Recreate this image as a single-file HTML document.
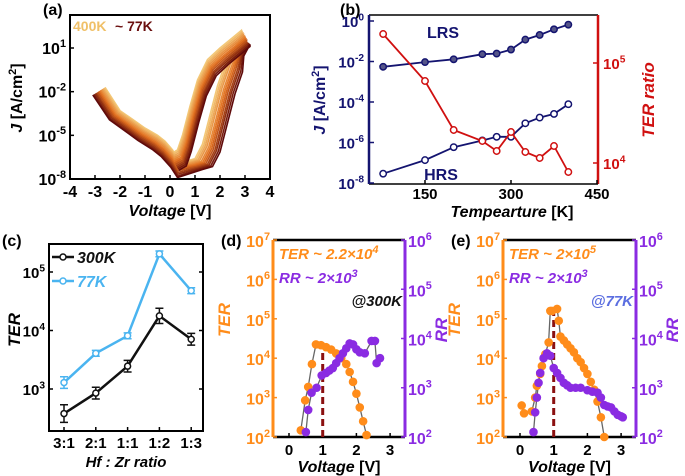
<!DOCTYPE html>
<html><head><meta charset="utf-8"><style>
body{margin:0;background:#fff}
svg{display:block;font-family:"Liberation Sans",Arial,sans-serif;font-weight:bold}
</style></head><body>
<svg id="fig" width="685" height="476" viewBox="0 0 685 476" xmlns="http://www.w3.org/2000/svg"></svg>
<script>
// ---------- Panel (a) data ----------
const aTemps=[400,375,350,325,300,275,250,225,200,150,100,77];
const aHrsShift=[0,0.06,0.12,0.18,0.25,0.31,0.37,0.43,0.5,0.56,0.63,0.7];
const aLrsShift=[0,-0.1,-0.2,-0.3,-0.4,-0.5,-0.6,-0.7,-0.8,-0.9,-1.0,-1.1];
const aNegShift=[0,-0.12,-0.24,-0.36,-0.48,-0.6,-0.72,-0.84,-0.96,-1.08,-1.2,-1.3];
const aNegV=[-2.6,-2.0,-1.5,-1.0,-0.5,-0.2,0.1,0.3];
const aNegJ=[-1.7,-3.3,-3.9,-4.5,-5.0,-5.4,-6.0,-6.6];
const aHrsV=[0.6,1.0,1.3,1.6,1.9,2.2,2.6,2.85];
const aHrsJ=[-6.8,-6.6,-5.6,-3.6,-1.6,-0.1,1.0,1.8];
const aLrsV=[2.85,2.5,2.0,1.5,1.1,0.8,0.5,0.3,0.0];
const aLrsJ=[2.2,1.7,1.0,0.2,-1.2,-3.0,-5.0,-6.0,-6.3];
// ---------- Panel (b) data ----------
const bTemp=[77,150,200,250,275,300,325,350,375,400];
const bLRS=[-2.26,-2.03,-1.89,-1.64,-1.61,-1.41,-0.92,-0.69,-0.41,-0.18];
const bHRS=[-7.54,-6.87,-6.23,-5.90,-5.72,-5.72,-5.05,-4.77,-4.59,-4.11];
const bTER=[5.29,4.82,4.33,4.22,4.12,4.31,4.11,4.05,4.17,3.91];
// ---------- Panel (c) data ----------
const cCats=["3:1","2:1","1:1","1:2","1:3"];
const c300=[2.58,2.93,3.39,4.25,3.85];
const c77=[3.11,3.61,3.91,5.31,4.68];
const c300Err=[0.15,0.1,0.1,0.13,0.1];
const c77Err=[0.1,0.05,0.05,0.05,0.05];
// ---------- Panel (d) data ----------
const dTerV=[0.35,0.48,0.57,0.68,0.8,0.95,1.1,1.25,1.4,1.55,1.7,1.8,1.9,2.0,2.1,2.2,2.3];
const dTer=[2.17,2.93,3.27,3.85,4.35,4.33,4.28,4.22,4.12,4.0,3.85,3.65,3.4,3.1,2.75,2.4,2.05];
const dRrV=[0.5,0.57,0.67,0.82,0.97,1.1,1.2,1.3,1.4,1.5,1.6,1.7,1.8,1.9,2.0,2.1,2.25,2.45,2.55,2.6,2.7];
const dRr=[2.1,2.55,2.9,3.0,3.25,3.3,3.35,3.4,3.5,3.6,3.7,3.8,3.9,3.88,3.78,3.72,3.7,3.95,3.95,3.5,3.6];
// ---------- Panel (e) data ----------
const eTerV=[0.05,0.12,0.35,0.45,0.5,0.6,0.65,0.75,0.85,0.9,0.95,1.1,1.15,1.2,1.3,1.4,1.5,1.6,1.7,1.8,1.9,2.0,2.1,2.2,2.3,2.4,2.5];
const eTer=[2.8,2.6,2.65,3.0,3.3,3.6,3.8,4.1,4.4,5.2,5.2,5.25,4.95,4.55,4.45,4.35,4.25,4.15,4.0,3.9,3.75,3.6,3.4,3.2,2.9,2.5,2.0];
const eRrV=[0.4,0.45,0.5,0.55,0.6,0.7,0.8,0.9,1.0,1.1,1.2,1.3,1.4,1.5,1.65,1.8,2.0,2.15,2.3,2.4,2.5,2.6,2.7,2.8,2.9,3.0,3.05];
const eRr=[2.1,2.5,2.8,3.1,3.3,3.6,3.7,3.65,3.4,3.3,3.2,3.1,3.05,3.0,3.0,3.0,2.95,2.92,2.9,2.8,2.65,2.62,2.6,2.52,2.45,2.42,2.4];

const NS="http://www.w3.org/2000/svg";
const svg=document.getElementById('fig');
function mk(tag,at,parent){const e=document.createElementNS(NS,tag);for(const k in at)e.setAttribute(k,at[k]);(parent||svg).appendChild(e);return e;}
function txt(x,y,s,size,fill,anchor,extra){const e=mk('text',Object.assign({x:x,y:y,'font-size':size,fill:fill||'#000','text-anchor':anchor||'start'},extra||{}));e.textContent=s;return e;}
function pow10(x,y,exp,size,fill,anchor){const e=mk('text',{x:x,y:y,'font-size':size,fill:fill,'text-anchor':anchor||'end'});const a=mk('tspan',{},e);a.textContent='10';const b=mk('tspan',{dy:-size*0.45,'font-size':size*0.68},e);b.textContent=exp;return e;}
function lin(d0,d1,p0,p1){return v=>p0+(v-d0)*(p1-p0)/(d1-d0);}
function poly(pts,at,parent){return mk('polyline',Object.assign({points:pts.map(p=>p[0].toFixed(1)+','+p[1].toFixed(1)).join(' '),fill:'none'},at),parent);}

// ================= Panel (a) =================
(function(){
const X=lin(-4,4,70,270),Y=lin(-8,1,179,48);
const g=mk('g',{});


const c0=[243,200,120],c1=[225,110,30],c2=[95,10,10];
function col(i){const t=i/(aTemps.length-1);let a,b,u;if(t<0.5){a=c0;b=c1;u=t*2}else{a=c1;b=c2;u=(t-0.5)*2}return 'rgb('+a.map((v,k)=>Math.round(v+(b[k]-v)*u)).join(',')+')';}
const clip=mk('clipPath',{id:'clipA'});mk('rect',{x:70,y:15,width:200,height:164},clip);
aTemps.forEach((T,i)=>{
 const pts=[];
 const n=aNegV.length;
 aNegV.forEach((v,k)=>{const w=1-k/(n-1);pts.push([X(v-aHrsShift[i]*0.7*w),Y(aNegJ[k]+aNegShift[i]*(0.4+0.6*(1-w)))]);});
 aHrsV.forEach((v,k)=>pts.push([X(v+aHrsShift[i]*(k>=6?0.5:1)),Y(aHrsJ[k]+aLrsShift[i]*0.5)]));
 aLrsV.forEach((v,k)=>pts.push([X(v+aHrsShift[i]*0.5),Y(aLrsJ[k]+aLrsShift[i])]));
 const p=poly(pts,{stroke:col(i),'stroke-width':1.6,'clip-path':'url(#clipA)'},g);
 
 
});
mk('rect',{x:70,y:15,width:200,height:164,fill:'none',stroke:'#000','stroke-width':2},g);
for(let v=-4;v<=4;v++){mk('line',{x1:X(v),x2:X(v),y1:179,y2:175,stroke:'#000','stroke-width':1.5},g);txt(X(v),197,String(v),16,'#000','middle');}
[-8,-5,-2,1].forEach(e=>{pow10(66,Y(e)+6,String(e),16,'#000');mk('line',{x1:70,x2:74,y1:Y(e),y2:Y(e),stroke:'#000','stroke-width':1.5},g);});
const t=mk('text',{x:170,y:216,'font-size':16,'text-anchor':'middle'});const t1=mk('tspan',{'font-style':'italic'},t);t1.textContent='Voltage';const t2=mk('tspan',{},t);t2.textContent=' [V]';
const yt=mk('text',{x:0,y:0,'font-size':16,'text-anchor':'middle',transform:'translate(22,98) rotate(-90)'});const y1=mk('tspan',{'font-style':'italic'},yt);y1.textContent='J';const y2=mk('tspan',{},yt);y2.textContent=' [A/cm';const y3=mk('tspan',{dy:-6,'font-size':11},yt);y3.textContent='2';const y4=mk('tspan',{dy:6},yt);y4.textContent=']';
txt(43,15,'(a)',16,'#000','start');
txt(73,31,'400K',14,'#f0c068');txt(115,31,'~ 77K',14,'#6a0e0e');
})();

// ================= Panel (b) =================
(function(){
const X=lin(150,300,425,511),YL=lin(0,-8,21,183),YR=lin(5,4,63,163);
const NAVY='#141470',RED='#d01010';
txt(340,15,'(b)',16,'#000');
mk('line',{x1:369,x2:598,y1:15,y2:15,stroke:'#000','stroke-width':1.5});
mk('line',{x1:369,x2:598,y1:184,y2:184,stroke:'#000','stroke-width':1.5});
mk('line',{x1:369,x2:369,y1:15,y2:184,stroke:NAVY,'stroke-width':2.5});
mk('line',{x1:598,x2:598,y1:15,y2:184,stroke:RED,'stroke-width':2.5});
[0,-2,-4,-6,-8].forEach(e=>{pow10(364,YL(e)+6,String(e),15,NAVY);mk('line',{x1:369,x2:374,y1:YL(e),y2:YL(e),stroke:NAVY,'stroke-width':1.5});});
[5,4].forEach(e=>{pow10(603,YR(e)+6,String(e),15,RED,'start');mk('line',{x1:598,x2:593,y1:YR(e),y2:YR(e),stroke:RED,'stroke-width':1.5});});
[150,300,450].forEach(v=>{txt(X(v),199,String(v),15,'#000','middle');mk('line',{x1:X(v),x2:X(v),y1:184,y2:180,stroke:'#000','stroke-width':1.5});});
const t=mk('text',{x:512,y:217,'font-size':16,'text-anchor':'middle'});const a=mk('tspan',{'font-style':'italic'},t);a.textContent='Tempearture';const b=mk('tspan',{},t);b.textContent=' [K]';
const yt=mk('text',{x:0,y:0,'font-size':16,'text-anchor':'middle',fill:NAVY,transform:'translate(325,100) rotate(-90)'});const y1=mk('tspan',{'font-style':'italic'},yt);y1.textContent='J';const y2=mk('tspan',{},yt);y2.textContent=' [A/cm';const y3=mk('tspan',{dy:-6,'font-size':11},yt);y3.textContent='2';const y4=mk('tspan',{dy:6},yt);y4.textContent=']';
txt(0,0,'TER ratio',17,RED,'middle',{'font-style':'italic',transform:'translate(654,100) rotate(-90)'});
const series=[[bLRS,YL,NAVY,'lrs',true],[bHRS,YL,NAVY,'hrs',false],[bTER,YR,RED,'ter-ratio',false]];
series.forEach(s=>{
 const pts=bTemp.map((T,i)=>[X(T),s[1](s[0][i])]);
 const p=poly(pts,{stroke:s[2],'stroke-width':1.8});
 
 pts.forEach(q=>{const c=mk('circle',{cx:q[0],cy:q[1],r:3.2,fill:s[4]?'#555588':'#fff',stroke:s[2],'stroke-width':1.5});});
});
txt(443,38,'LRS',16,NAVY,'middle');txt(441,180,'HRS',16,NAVY,'middle');
})();

// ================= Panel (c) =================
(function(){
const X=i=>64+i*31.8,Y=lin(5,3,272,389);
txt(2,246,'(c)',16,'#000');
mk('rect',{x:49,y:244,width:154,height:187,fill:'none',stroke:'#000','stroke-width':2});
[5,4,3].forEach(e=>{pow10(45,Y(e)+6,String(e),15,'#000');mk('line',{x1:49,x2:53,y1:Y(e),y2:Y(e),stroke:'#000','stroke-width':1.5});mk('line',{x1:203,x2:199,y1:Y(e),y2:Y(e),stroke:'#000','stroke-width':1.5});});
cCats.forEach((c,i)=>{txt(X(i),448,c,15,'#000','middle');mk('line',{x1:X(i),x2:X(i),y1:431,y2:427,stroke:'#000','stroke-width':1.5});});
txt(126,467,'Hf : Zr ratio',15,'#000','middle',{'font-style':'italic'});
txt(0,0,'TER',17,'#000','middle',{'font-style':'italic',transform:'translate(20,330) rotate(-90)'});
[[c77,c77Err,'#4ab4f0','77k'],[c300,c300Err,'#111','300k']].forEach(s=>{
 const pts=s[0].map((v,i)=>[X(i),Y(v)]);
 const p=poly(pts,{stroke:s[2],'stroke-width':2.5});
 pts.forEach((q,i)=>{const y1=Y(s[0][i]+s[1][i]),y2=Y(s[0][i]-s[1][i]);
  mk('path',{d:`M${q[0]},${y1}V${y2}M${q[0]-4},${y1}H${q[0]+4}M${q[0]-4},${y2}H${q[0]+4}`,stroke:s[2],'stroke-width':1.5,fill:'none'});
  const c=mk('circle',{cx:q[0],cy:q[1],r:3,fill:'#fff',stroke:s[2],'stroke-width':1.5});});
});
mk('line',{x1:52,x2:74,y1:257,y2:257,stroke:'#111','stroke-width':2.5});mk('circle',{cx:63,cy:257,r:3,fill:'#fff',stroke:'#111','stroke-width':1.5});
txt(77,263,'300K',16,'#111','start',{'font-style':'italic'});
mk('line',{x1:52,x2:74,y1:281,y2:281,stroke:'#4ab4f0','stroke-width':2.5});mk('circle',{cx:63,cy:281,r:3,fill:'#fff',stroke:'#4ab4f0','stroke-width':1.5});
txt(77,287,'77K',16,'#4ab4f0','start',{'font-style':'italic'});
})();

// ================= Panels (d),(e) =================
const OR='#ff8c1a',PU='#8a2be2';
function vpanel(id,L,R,x0,terV,ter,rrV,rr,lbl,note,noteCol,terTxt,terExp){
 const X=lin(0,1,x0,x0+33.7),YT=lin(2,7,437,240),YR=lin(2,6,437,240);
 txt(L-52,246,lbl,16,'#000');
 mk('line',{x1:L,x2:R,y1:240,y2:240,stroke:'#000','stroke-width':2.5});
 mk('line',{x1:L,x2:R,y1:437,y2:437,stroke:'#000','stroke-width':2.5});
 mk('line',{x1:L,x2:L,y1:240,y2:437,stroke:OR,'stroke-width':3});
 mk('line',{x1:R,x2:R,y1:240,y2:437,stroke:PU,'stroke-width':3});
 [2,3,4,5,6,7].forEach(e=>{pow10(L-3,YT(e)+7,String(e),16,OR);mk('line',{x1:L,x2:L+4,y1:YT(e),y2:YT(e),stroke:OR,'stroke-width':1.5});});
 [2,3,4,5,6].forEach(e=>{pow10(R+3,YR(e)+7,String(e),16,PU,'start');mk('line',{x1:R,x2:R-4,y1:YR(e),y2:YR(e),stroke:PU,'stroke-width':1.5});});
 [0,1,2,3].forEach(v=>{txt(X(v),455,String(v),15,'#000','middle');mk('line',{x1:X(v),x2:X(v),y1:437,y2:433,stroke:'#000','stroke-width':1.5});});
 const t=mk('text',{x:(L+R)/2,y:472,'font-size':16,'text-anchor':'middle'});const a=mk('tspan',{'font-style':'italic'},t);a.textContent='Voltage';const b=mk('tspan',{},t);b.textContent=' [V]';
 txt(0,0,'TER',17,OR,'middle',{'font-style':'italic',transform:`translate(${L-43},320) rotate(-90)`});
 txt(0,0,'RR',17,PU,'middle',{'font-style':'italic',transform:`translate(${R+42},330) rotate(-90)`});
 mk('line',{x1:X(1),x2:X(1),y1:437,y2:YT(Math.max(...ter)),stroke:'#8b1010','stroke-width':3,'stroke-dasharray':'7,4'});
 const tp=terV.map((v,i)=>[X(v),YT(ter[i])]),rp=rrV.map((v,i)=>[X(v),YR(rr[i])]);
 poly(tp,{stroke:'#666','stroke-width':1.3});poly(rp,{stroke:'#666','stroke-width':1.3});
 tp.forEach(q=>{const c=mk('circle',{cx:q[0],cy:q[1],r:4.3,fill:OR});});
 rp.forEach(q=>{const c=mk('circle',{cx:q[0],cy:q[1],r:4.3,fill:PU});});
 const tt=mk('text',{x:L+6,y:259,'font-size':15,fill:OR,'font-style':'italic'});const t1=mk('tspan',{},tt);t1.textContent=terTxt;const t2=mk('tspan',{dy:-6,'font-size':11},tt);t2.textContent=terExp;
 const r=mk('text',{x:L+6,y:283,'font-size':15,fill:PU,'font-style':'italic'});const r1=mk('tspan',{},r);r1.textContent='RR ~ 2×10';const r2=mk('tspan',{dy:-6,'font-size':11},r);r2.textContent='3';
 txt(R-3,306,note,15,noteCol,'end',{'font-style':'italic'});
}
vpanel('panel-d',273,405,289,dTerV,dTer,dRrV,dRr,'(d)','@300K','#111','TER ~ 2.2×10','4');
vpanel('panel-e',503,636,520,eTerV,eTer,eRrV,eRr,'(e)','@77K','#5b6ee0','TER ~ 2×10','5');
</script>
</body></html>
